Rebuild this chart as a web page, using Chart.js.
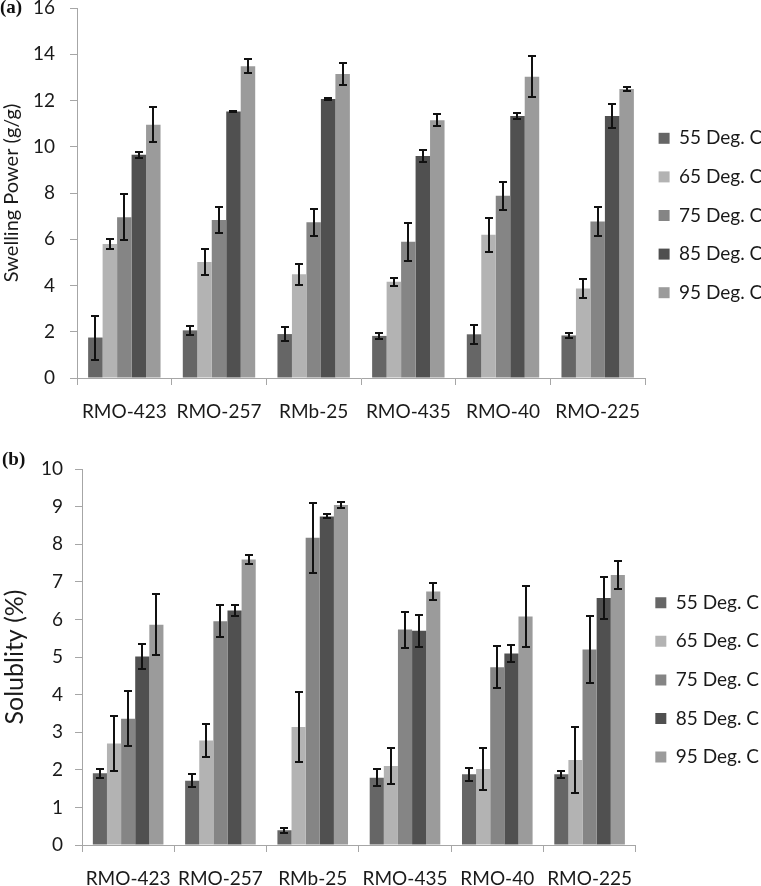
<!DOCTYPE html>
<html>
<head>
<meta charset="utf-8">
<script src="https://cdn.jsdelivr.net/npm/chart.js@4.4.1/dist/chart.umd.min.js"></script>
<style>
body{margin:0;background:#fff;width:761px;height:886px;position:relative;overflow:hidden}
.box{position:absolute;left:0;width:761px}
.tag{position:absolute;font:bold 19px "Liberation Serif",serif;color:#111}
</style>
</head>
<body>
<div class="box" style="top:0;height:420px"><canvas id="c1" width="761" height="420"></canvas></div>
<div class="box" style="top:420px;height:466px"><canvas id="c2" width="761" height="466"></canvas></div>
<span class="tag" style="left:0;top:-4px">(a)</span>
<span class="tag" style="left:2px;top:448px">(b)</span>
<script>
const cats=["RMO-423","RMO-257","RMb-25","RMO-435","RMO-40","RMO-225"]
const temps=["55 Deg. C","65 Deg. C","75 Deg. C","85 Deg. C","95 Deg. C"]
const colors=["#666666","#b3b3b3","#858585","#505050","#9b9b9b"]

// swelling power (g/g), one row per temperature
const swell=[
  [1.75,2.06,1.9,1.82,1.89,1.84],
  [5.8,5.02,4.49,4.16,6.19,3.87],
  [6.95,6.83,6.73,5.89,7.88,6.77],
  [9.65,11.52,12.06,9.6,11.33,11.33],
  [10.95,13.48,13.15,11.15,13.03,12.5]
]
const swellErr=[
  [0.95,0.2,0.32,0.14,0.4,0.1],
  [0.23,0.57,0.45,0.16,0.74,0.39],
  [1.0,0.58,0.58,0.81,0.6,0.62],
  [0.13,0.03,0.03,0.28,0.14,0.54],
  [0.75,0.3,0.48,0.25,0.89,0.1]
]

// solubility (%)
const solub=[
  [1.91,1.71,0.39,1.79,1.88,1.88],
  [2.7,2.78,3.14,2.1,2.02,2.26],
  [3.36,5.95,8.17,5.73,4.73,5.2],
  [5.01,6.24,8.74,5.7,5.09,6.57],
  [5.86,7.59,9.04,6.74,6.08,7.18]
]
const solubErr=[
  [0.12,0.17,0.07,0.22,0.18,0.1],
  [0.74,0.43,0.92,0.48,0.55,0.88],
  [0.73,0.43,0.93,0.48,0.55,0.88],
  [0.33,0.15,0.05,0.43,0.23,0.56],
  [0.82,0.12,0.09,0.23,0.81,0.37]
]

const txt="#1a1a1a",axis="#a6a6a6",fam="Lato"

// draw error bars with the y scale
const errBars={id:"errBars",afterDatasetsDraw(chart){
  const ctx=chart.ctx,y=chart.scales.y
  ctx.save()
  ctx.strokeStyle="#111";ctx.lineWidth=2
  chart.data.datasets.forEach((ds,i)=>{
    chart.getDatasetMeta(i).data.forEach((bar,j)=>{
      const v=ds.data[j],e=ds.err[j]
      const t=Math.round(y.getPixelForValue(v+e)),b=Math.round(y.getPixelForValue(v-e))
      const x=Math.round(bar.x),w=4
      ctx.beginPath()
      ctx.moveTo(x,t);ctx.lineTo(x,b)
      ctx.moveTo(x-w,t);ctx.lineTo(x+w,t)
      ctx.moveTo(x-w,b);ctx.lineTo(x+w,b)
      ctx.stroke()
    })
  })
  ctx.restore()
}}

// nudge the legend sideways a little so the text fits
const legShift={id:"legShift",afterLayout(chart,args,opts){
  const l=chart.legend
  if(l&&opts.dx){l.left+=opts.dx;l.right+=opts.dx}
}}

function makeChart(id,vals,errs,o){
  return new Chart(document.getElementById(id),{
    type:"bar",
    data:{labels:cats,datasets:temps.map((t,i)=>({
      label:t,data:vals[i],err:errs[i],backgroundColor:colors[i],borderWidth:0,
      categoryPercentage:0.765,barPercentage:1
    }))},
    options:{
      responsive:false,animation:false,
      layout:{padding:{top:o.top,left:0,right:o.right,bottom:0}},
      plugins:{
        tooltip:{enabled:false},
        legShift:{dx:o.dx},
        legend:{position:"right",align:"start",maxWidth:o.legW,
          title:{display:true,text:"",padding:{top:o.legPad,bottom:0}},
          labels:{boxWidth:11,boxHeight:11,padding:19.6,color:txt,
            font:{family:fam,size:19}}}
      },
      scales:{
        x:{afterFit(s){s.height=o.xh},
          grid:{drawOnChartArea:false,tickLength:7,color:axis},
          border:{color:axis},
          ticks:{color:txt,padding:15,font:{family:fam,size:19}}},
        y:{min:0,max:o.max,
          afterFit(s){s.width=o.left;s.paddingTop=0;s.paddingBottom=0},
          grid:{drawOnChartArea:false,tickLength:7,color:axis},
          border:{color:axis},
          ticks:{stepSize:o.step,color:txt,padding:o.tp,font:{family:fam,size:19,lineHeight:1}},
          title:{display:true,text:o.title,color:txt,padding:{top:0,bottom:0},
            font:{family:fam,size:o.tsize}}}
      }
    },
    plugins:[errBars,legShift]
  })
}

makeChart("c1",swell,swellErr,{top:8,right:-14,xh:42,legW:130,legPad:86.8,dx:-6,max:16,step:2,left:77,tp:15,
  title:"Swelling Power (g/g)",tsize:20})
makeChart("c2",solub,solubErr,{top:49,right:-8,xh:41,legW:136,legPad:90.2,dx:0,max:10,step:1,left:82,tp:12,
  title:"Solublity (%)",tsize:25})
</script>
</body>
</html>
